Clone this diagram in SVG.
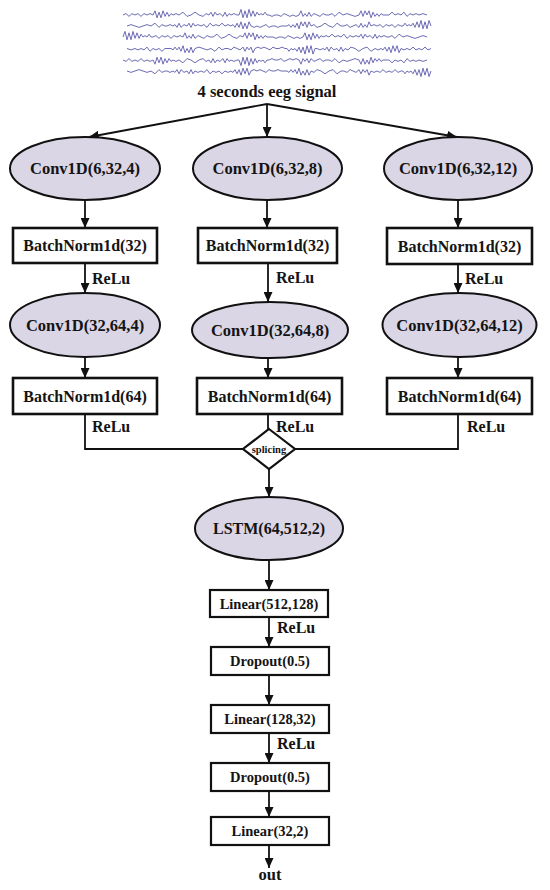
<svg xmlns="http://www.w3.org/2000/svg" xmlns:xlink="http://www.w3.org/1999/xlink" width="550" height="890" viewBox="0 0 550 890">
<style>
text{font-family:"Liberation Serif","Times New Roman",serif;font-weight:bold;fill:#141414}
.lbl{font-size:16px;text-anchor:middle}
.sm{font-size:14.5px;text-anchor:middle}
.relu{font-size:16px}
.ell{fill:#dad6e6;stroke:#111;stroke-width:2}
.box{fill:#fff;stroke:#111;stroke-width:2.6}
.box2{fill:#fff;stroke:#111;stroke-width:2.2}
.ln{fill:none;stroke:#111;stroke-width:1.8}
.eeg{fill:none;stroke:#6d6bb4;stroke-width:1;stroke-linejoin:round;vector-effect:non-scaling-stroke}
</style>
<defs>
<marker id="ah" markerUnits="userSpaceOnUse" markerWidth="10" markerHeight="9" refX="10" refY="4.5" orient="auto">
<path d="M0,0 L10,4.5 L0,9 z" fill="#111"/>
</marker>
<path id="wA" class="eeg" d="M0,0 l3,-1 3,2 3,-2 3,1 3,-1 3,2 3,-2 3,1 3,-1 3,1 2,-3 2,5 2,-4 2,4 2,-5 2,4 2,-3 2,3 2,-2 2,1 3,-1 3,1 4,-2 4,3 4,-1 4,-2 4,2 4,1 3,-2 3,1 2,-2 2,3 2,-3 2,2 3,-1 3,2 2,-3 2,3 2,-2 2,1 3,-1 3,1 2,0 2,-4 2,6 2,-5 2,5 2,-6 2,5 2,-4 2,4 2,-3 2,2 2,-1 2,1 2,-2 2,2 2,0 3,1 3,-1 3,0 3,1 3,-2 3,1 3,1 3,-1 3,1 3,-1 2,-3 2,4 2,-2 2,2 2,-3 2,3 3,-2 3,1 3,1 3,-2 3,1 3,0 3,-1 3,2 4,-3 4,2 4,-1 4,1 4,1 4,-1 2,-3 2,4 2,-4 2,3 2,-3 2,5 2,-4 2,3 2,-2 2,2 2,-2 2,1 3,0 3,0 3,-2 3,2 3,-1 3,1 3,-2 3,3 3,-2 3,1 3,-1 3,1 4,-1 4,1"/>
<path id="wB" class="eeg" d="M0,0 l2,-4 2,6 2,-5 2,5 2,-6 2,5 2,-4 2,4 2,-3 2,2 2,-1 2,1 2,-2 2,2 2,0 3,-1 3,2 3,-2 3,1 3,-1 3,2 3,-2 3,1 3,-1 3,1 2,-3 2,4 2,-2 2,2 2,-3 2,3 3,-2 3,1 3,1 3,-2 3,1 3,0 4,-2 4,3 4,-1 4,-2 4,2 4,1 3,-2 3,1 2,-3 2,4 2,-4 2,3 2,-3 2,5 2,-4 2,3 2,-2 2,2 2,-2 2,1 3,0 3,0 3,1 3,-1 3,0 3,1 3,-2 3,1 3,1 3,-1 3,1 3,-1 2,-3 2,5 2,-4 2,4 2,-5 2,4 2,-3 2,3 2,-2 2,1 3,-1 3,1 3,-2 3,2 3,-1 3,1 3,-2 3,3 3,-2 3,1 3,-1 3,1 2,-2 2,3 2,-3 2,2 3,-1 3,2 2,-3 2,3 2,-2 2,1 3,-1 3,1 2,0 3,-1 3,2 4,-3 4,2 4,-1 4,1 4,1 4,-1 4,-1 4,1"/>
</defs>

<g id="eeg-signal">
<use xlink:href="#wA" transform="translate(123,15) scale(1,1.4)"/>
<use xlink:href="#wB" transform="translate(431,26) scale(-1,1.4)"/>
<use xlink:href="#wB" transform="translate(123,37) scale(1,1.4)"/>
<use xlink:href="#wA" transform="translate(431,48.5) scale(-1,-1.4)"/>
<use xlink:href="#wA" transform="translate(123,60) scale(1,-1.4)"/>
<use xlink:href="#wB" transform="translate(431,71) scale(-1,-1.4)"/>
<text class="lbl" x="267" y="97" style="font-size:16.5px">4 seconds eeg signal</text>
</g>

<g id="connectors">
<line class="ln" x1="267" y1="104" x2="89" y2="137" marker-end="url(#ah)"/>
<line class="ln" x1="267" y1="104" x2="267" y2="137" marker-end="url(#ah)"/>
<line class="ln" x1="267" y1="104" x2="457" y2="137" marker-end="url(#ah)"/>
<line class="ln" x1="85" y1="200" x2="85" y2="228" marker-end="url(#ah)"/>
<line class="ln" x1="267" y1="200" x2="267" y2="228" marker-end="url(#ah)"/>
<line class="ln" x1="458" y1="200" x2="458" y2="228" marker-end="url(#ah)"/>
<line class="ln" x1="85" y1="263" x2="85" y2="293" marker-end="url(#ah)"/>
<line class="ln" x1="268" y1="263" x2="268" y2="302" marker-end="url(#ah)"/>
<line class="ln" x1="458" y1="264" x2="458" y2="293" marker-end="url(#ah)"/>
<line class="ln" x1="85" y1="357" x2="85" y2="378" marker-end="url(#ah)"/>
<line class="ln" x1="268" y1="358" x2="268" y2="378" marker-end="url(#ah)"/>
<line class="ln" x1="458" y1="357" x2="458" y2="378" marker-end="url(#ah)"/>
<polyline class="ln" points="85,414 85,449 243,449"/>
<polyline class="ln" points="458,414 458,449 295,449"/>
<line class="ln" x1="268" y1="414" x2="268" y2="429"/>
<line class="ln" x1="269" y1="469" x2="269" y2="497" marker-end="url(#ah)"/>
<line class="ln" x1="269" y1="560" x2="269" y2="590" marker-end="url(#ah)"/>
<line class="ln" x1="269" y1="617" x2="269" y2="647" marker-end="url(#ah)"/>
<line class="ln" x1="269" y1="675" x2="269" y2="705" marker-end="url(#ah)"/>
<line class="ln" x1="269" y1="733" x2="269" y2="763" marker-end="url(#ah)"/>
<line class="ln" x1="269" y1="791" x2="269" y2="817" marker-end="url(#ah)"/>
<line class="ln" x1="269" y1="845" x2="269" y2="868" marker-end="url(#ah)"/>
<text class="relu" x="92" y="284">ReLu</text>
<text class="relu" x="276" y="283">ReLu</text>
<text class="relu" x="465" y="284">ReLu</text>
<text class="relu" x="92" y="432">ReLu</text>
<text class="relu" x="276" y="432">ReLu</text>
<text class="relu" x="467" y="432">ReLu</text>
<text class="relu" x="277" y="633">ReLu</text>
<text class="relu" x="277" y="749">ReLu</text>
</g>

<g id="conv1">
<ellipse class="ell" cx="85" cy="168.5" rx="75" ry="31.5"/>
<text class="lbl" x="85" y="174" style="font-size:16.5px">Conv1D(6,32,4)</text>
</g>
<g id="conv2">
<ellipse class="ell" cx="267.5" cy="168.5" rx="74.5" ry="31.5"/>
<text class="lbl" x="267.5" y="174" style="font-size:16.5px">Conv1D(6,32,8)</text>
</g>
<g id="conv3">
<ellipse class="ell" cx="458" cy="168.5" rx="74" ry="31.5"/>
<text class="lbl" x="458" y="174" style="font-size:16.5px">Conv1D(6,32,12)</text>
</g>

<g id="bn32-1">
<rect class="box" x="13" y="228" width="144" height="35"/>
<text class="lbl" x="85" y="251">BatchNorm1d(32)</text>
</g>
<g id="bn32-2">
<rect class="box" x="198" y="228" width="139" height="35"/>
<text class="lbl" x="267.5" y="251">BatchNorm1d(32)</text>
</g>
<g id="bn32-3">
<rect class="box" x="387" y="228" width="145" height="36"/>
<text class="lbl" x="459.5" y="251.5">BatchNorm1d(32)</text>
</g>

<g id="conv4">
<ellipse class="ell" cx="85" cy="325" rx="75" ry="32"/>
<text class="lbl" x="85" y="330.5" style="font-size:16.5px">Conv1D(32,64,4)</text>
</g>
<g id="conv5">
<ellipse class="ell" cx="270" cy="330" rx="78" ry="28"/>
<text class="lbl" x="270" y="335.5" style="font-size:16.5px">Conv1D(32,64,8)</text>
</g>
<g id="conv6">
<ellipse class="ell" cx="459.5" cy="325" rx="77" ry="32"/>
<text class="lbl" x="459.5" y="330.5" style="font-size:16.5px">Conv1D(32,64,12)</text>
</g>

<g id="bn64-1">
<rect class="box" x="13" y="378" width="144" height="36"/>
<text class="lbl" x="85" y="401.5">BatchNorm1d(64)</text>
</g>
<g id="bn64-2">
<rect class="box" x="197" y="378" width="145" height="36"/>
<text class="lbl" x="269.5" y="401.5">BatchNorm1d(64)</text>
</g>
<g id="bn64-3">
<rect class="box" x="387" y="378" width="145" height="36"/>
<text class="lbl" x="459.5" y="401.5">BatchNorm1d(64)</text>
</g>

<g id="splicing">
<polygon points="269,429 295,449 269,469 243,449" fill="#fff" stroke="#111" stroke-width="2.2"/>
<text class="lbl" x="269" y="452.5" style="font-size:10.5px">splicing</text>
</g>

<g id="lstm">
<ellipse class="ell" cx="269" cy="528.5" rx="74" ry="31.5"/>
<text class="lbl" x="269" y="534" style="font-size:16px">LSTM(64,512,2)</text>
</g>

<g id="linear1">
<rect class="box2" x="210" y="590" width="118" height="27"/>
<text class="sm" x="269" y="608.5">Linear(512,128)</text>
</g>
<g id="dropout1">
<rect class="box2" x="211" y="647" width="118" height="28"/>
<text class="sm" x="270" y="666">Dropout(0.5)</text>
</g>
<g id="linear2">
<rect class="box2" x="211" y="705" width="118" height="28"/>
<text class="sm" x="270" y="724">Linear(128,32)</text>
</g>
<g id="dropout2">
<rect class="box2" x="211" y="763" width="118" height="28"/>
<text class="sm" x="270" y="782">Dropout(0.5)</text>
</g>
<g id="linear3">
<rect class="box2" x="211" y="817" width="118" height="28"/>
<text class="sm" x="270" y="836">Linear(32,2)</text>
</g>
<g id="out">
<text class="lbl" x="270" y="880" style="font-size:16.5px">out</text>
</g>
</svg>
